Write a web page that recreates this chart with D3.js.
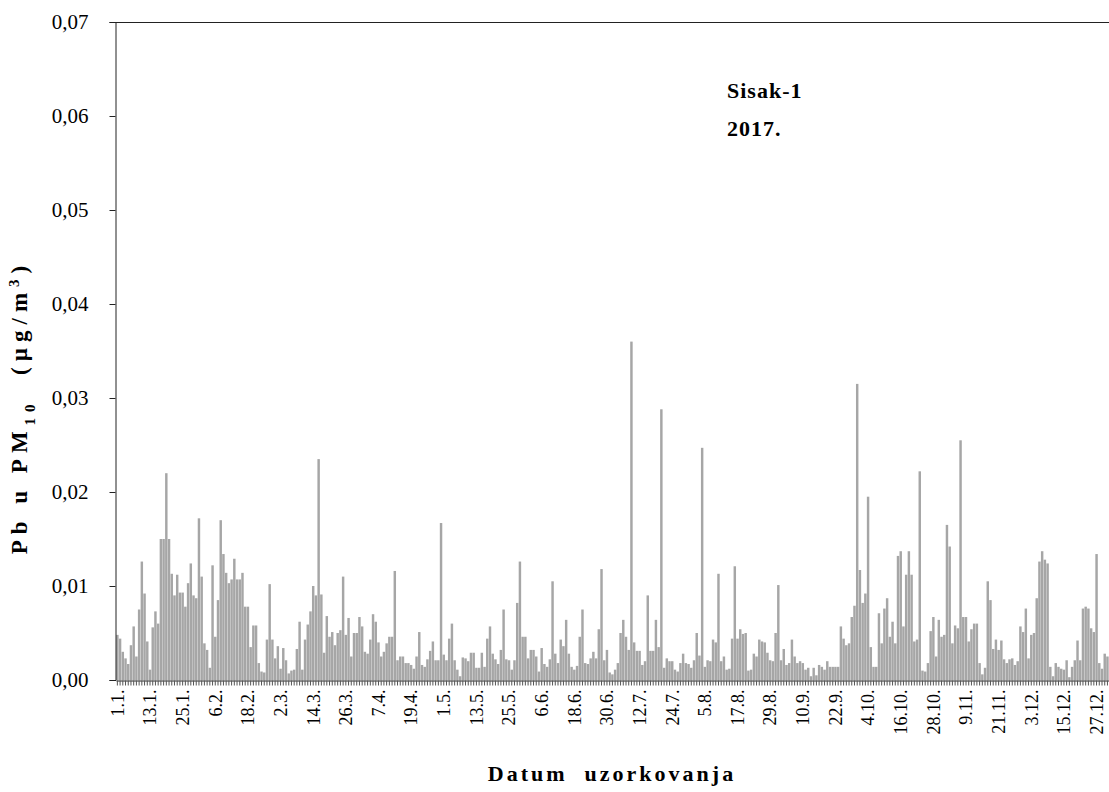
<!DOCTYPE html>
<html>
<head>
<meta charset="utf-8">
<script src="https://cdn.jsdelivr.net/npm/d3@7"></script>
<style>
  html, body { margin: 0; padding: 0; background: #fff; }
  svg { display: block; }
  text { font-family: "Liberation Serif", "Times New Roman", serif; fill: #000; }
</style>
</head>
<body>
<svg id="chart" width="1109" height="792"></svg>
<script>
// Daily Pb concentration in PM10 at Sisak-1, 2017 (µg/m3), Jan 1 .. Dec 31
const pbJan = [0.0048,0.0044,0.0030,0.0023,0.0017,0.0037,0.0057,0.0025,0.0075,0.0126,0.0092,0.0041,0.0011,0.0056,0.0073,0.0060,0.0150,0.0150,0.0220,0.0150,0.0113,0.0090,0.0112,0.0093,0.0093,0.0078,0.0103,0.0124,0.0090,0.0087];
const pbFebMar = [0.0172,0.0110,0.0039,0.0032,0.0013,0.0122,0.0046,0.0085,0.0170,0.0134,0.0114,0.0103,0.0107,0.0129,0.0107,0.0107,0.0114,0.0078,0.0078,0.0035,0.0058,0.0058,0.0018,0.0009,0.0008,0.0043,0.0102,0.0043,0.0023,0.0036,0.0012];
const pbMarApr = [0.0034,0.0021,0.0007,0.0010,0.0011,0.0033,0.0062,0.0011,0.0043,0.0059,0.0073,0.0100,0.0090,0.0235,0.0091,0.0029,0.0068,0.0046,0.0051,0.0037,0.0050,0.0053,0.0110,0.0048,0.0066,0.0025,0.0050,0.0050,0.0067,0.0057,0.0030];
const pbAprMay = [0.0028,0.0043,0.0070,0.0062,0.0040,0.0025,0.0030,0.0039,0.0046,0.0046,0.0116,0.0021,0.0025,0.0025,0.0018,0.0018,0.0016,0.0012,0.0025,0.0051,0.0016,0.0014,0.0022,0.0031,0.0041,0.0021,0.0021,0.0167,0.0027,0.0021,0.0044];
const pbMayJun = [0.0060,0.0021,0.0011,0.0004,0.0024,0.0023,0.0020,0.0029,0.0029,0.0013,0.0013,0.0029,0.0014,0.0044,0.0057,0.0028,0.0022,0.0017,0.0032,0.0075,0.0022,0.0021,0.0011,0.0021,0.0082,0.0126,0.0046,0.0046,0.0023,0.0032,0.0032];
const pbJunJul = [0.0025,0.0009,0.0034,0.0017,0.0014,0.0022,0.0105,0.0028,0.0018,0.0043,0.0036,0.0064,0.0028,0.0014,0.0011,0.0015,0.0046,0.0075,0.0018,0.0017,0.0023,0.0030,0.0023,0.0054,0.0118,0.0021,0.0032,0.0008,0.0006,0.0011,0.0018];
const pbJulAug = [0.0050,0.0064,0.0046,0.0032,0.0360,0.0040,0.0031,0.0031,0.0016,0.0020,0.0090,0.0031,0.0031,0.0064,0.0035,0.0288,0.0013,0.0023,0.0020,0.0020,0.0011,0.0009,0.0018,0.0028,0.0018,0.0017,0.0013,0.0021,0.0050,0.0026];
const pbAugSep = [0.0247,0.0014,0.0021,0.0020,0.0043,0.0040,0.0113,0.0020,0.0025,0.0011,0.0012,0.0044,0.0121,0.0044,0.0054,0.0049,0.0050,0.0010,0.0011,0.0028,0.0025,0.0043,0.0041,0.0040,0.0029,0.0021,0.0020,0.0050,0.0101,0.0021];
const pbSepOct = [0.0033,0.0016,0.0018,0.0043,0.0025,0.0018,0.0020,0.0018,0.0011,0.0013,0.0004,0.0013,0.0005,0.0016,0.0014,0.0011,0.0020,0.0014,0.0014,0.0014,0.0014,0.0057,0.0044,0.0037,0.0039,0.0067,0.0079,0.0315,0.0117,0.0082,0.0092,0.0195];
const pbOctNov = [0.0035,0.0014,0.0014,0.0071,0.0039,0.0076,0.0087,0.0046,0.0062,0.0039,0.0132,0.0137,0.0057,0.0112,0.0137,0.0112,0.0041,0.0043,0.0222,0.0010,0.0009,0.0018,0.0052,0.0067,0.0025,0.0064,0.0046,0.0048,0.0165,0.0142,0.0039];
const pbNovDec = [0.0058,0.0055,0.0255,0.0067,0.0067,0.0041,0.0054,0.0060,0.0060,0.0018,0.0006,0.0013,0.0105,0.0085,0.0033,0.0043,0.0032,0.0042,0.0022,0.0018,0.0022,0.0023,0.0016,0.0020,0.0057,0.0051,0.0076,0.0023,0.0048,0.0050,0.0087];
const pbDec = [0.0126,0.0137,0.0128,0.0124,0.0014,0.0004,0.0018,0.0014,0.0012,0.0011,0.0021,0.0003,0.0014,0.0021,0.0042,0.0021,0.0076,0.0078,0.0076,0.0055,0.0051,0.0134,0.0018,0.0012,0.0028,0.0025];

const pbValues = [].concat(pbJan, pbFebMar, pbMarApr, pbAprMay, pbMayJun, pbJunJul,
  pbJulAug, pbAugSep, pbSepOct, pbOctNov, pbNovDec, pbDec);

// sampling dates (one per day of 2017) and the tick labels shown every 12 days
const sampleDates = pbValues.map((_, i) => new Date(2017, 0, 1 + i));
const dateLabel = d => `${d.getDate()}.${d.getMonth() + 1}.`;
const labelEvery = 12;
const yTicks = [0, 0.01, 0.02, 0.03, 0.04, 0.05, 0.06, 0.07];

const titleLines = ["Sisak-1", "2017."];
const xTitle = "Datum  uzorkovanja";

const svg = d3.select("#chart");
const plotLeft = 116, plotRight = 1109, plotTop = 22, plotBottom = 680;

const data = pbValues.map((v, i) => ({ date: sampleDates[i], value: v, i }));

const x = d3.scaleBand()
  .domain(data.map(d => d.i))
  .range([plotLeft, plotLeft + 2.72 * data.length])
  .paddingInner(0.1)
  .paddingOuter(0.05);

const y = d3.scaleLinear().domain([0, 0.07]).range([plotBottom, plotTop]);

// bars
svg.append("g")
  .selectAll("rect")
  .data(data)
  .join("rect")
  .attr("x", d => x(d.i))
  .attr("y", d => y(d.value))
  .attr("width", x.bandwidth())
  .attr("height", d => y(0) - y(d.value))
  .attr("fill", "#a6a6a6");

// plot frame: top edge
svg.append("line")
  .attr("x1", plotLeft).attr("x2", plotRight)
  .attr("y1", plotTop + 0.5).attr("y2", plotTop + 0.5)
  .attr("stroke", "#222").attr("stroke-width", 1);

// y axis
const yAxis = d3.axisLeft(y)
  .tickValues(yTicks)
  .tickSize(6)
  .tickFormat(v => d3.format(".2f")(v).replace(".", ","));
const gy = svg.append("g")
  .attr("transform", `translate(${plotLeft - 0.5},0)`)
  .call(yAxis);
gy.select(".domain").attr("stroke", "#222");
gy.selectAll(".tick line").attr("stroke", "#222");
gy.selectAll(".tick text")
  .attr("x", -27)
  .style("font-family", "Liberation Serif, serif")
  .style("font-size", "21px")
  .attr("fill", "#000");

// x axis: a tick for every day, labels every 12th day
const xAxis = d3.axisBottom(x)
  .tickSize(5)
  .tickSizeOuter(0)
  .tickFormat(i => i % labelEvery === 0 ? dateLabel(sampleDates[i]) : "");
const gx = svg.append("g")
  .attr("transform", `translate(0,${plotBottom + 0.5})`)
  .call(xAxis);
gx.select(".domain").attr("stroke", "#222");
gx.selectAll(".tick line").attr("stroke", "#555");
gx.selectAll(".tick text")
  .style("font-family", "Liberation Serif, serif")
  .style("font-size", "18px")
  .attr("fill", "#000")
  .attr("text-anchor", "end")
  .attr("dy", "0.35em")
  .attr("transform", "translate(0,9) rotate(-90)")
  .attr("x", 0)
  .attr("y", 0);

// chart title
const title = svg.append("text")
  .attr("x", 727)
  .attr("y", 98)
  .style("font-size", "22px")
  .style("letter-spacing", "1px")
  .style("font-weight", "bold");
titleLines.forEach((t, k) => {
  title.append("tspan").attr("x", 727).attr("dy", k === 0 ? 0 : 38).text(t);
});

// x axis title
svg.append("text")
  .attr("x", 612)
  .attr("y", 781)
  .attr("text-anchor", "middle")
  .style("font-size", "22px")
  .style("font-weight", "bold")
  .style("letter-spacing", "3px")
  .style("white-space", "pre")
  .text(xTitle);

// y axis title with subscript and superscript
const yt = svg.append("text")
  .attr("transform", "translate(27,407) rotate(-90)")
  .attr("text-anchor", "middle")
  .style("font-size", "23px")
  .style("letter-spacing", "6px")
  .style("white-space", "pre")
  .style("font-weight", "bold");
yt.append("tspan").text("Pb u PM");
yt.append("tspan").attr("baseline-shift", "sub").style("font-size", "15px").text("10");
yt.append("tspan").text("  (µg/m");
yt.append("tspan").attr("baseline-shift", "super").style("font-size", "15px").text("3");
yt.append("tspan").text(")");
</script>
</body>
</html>
